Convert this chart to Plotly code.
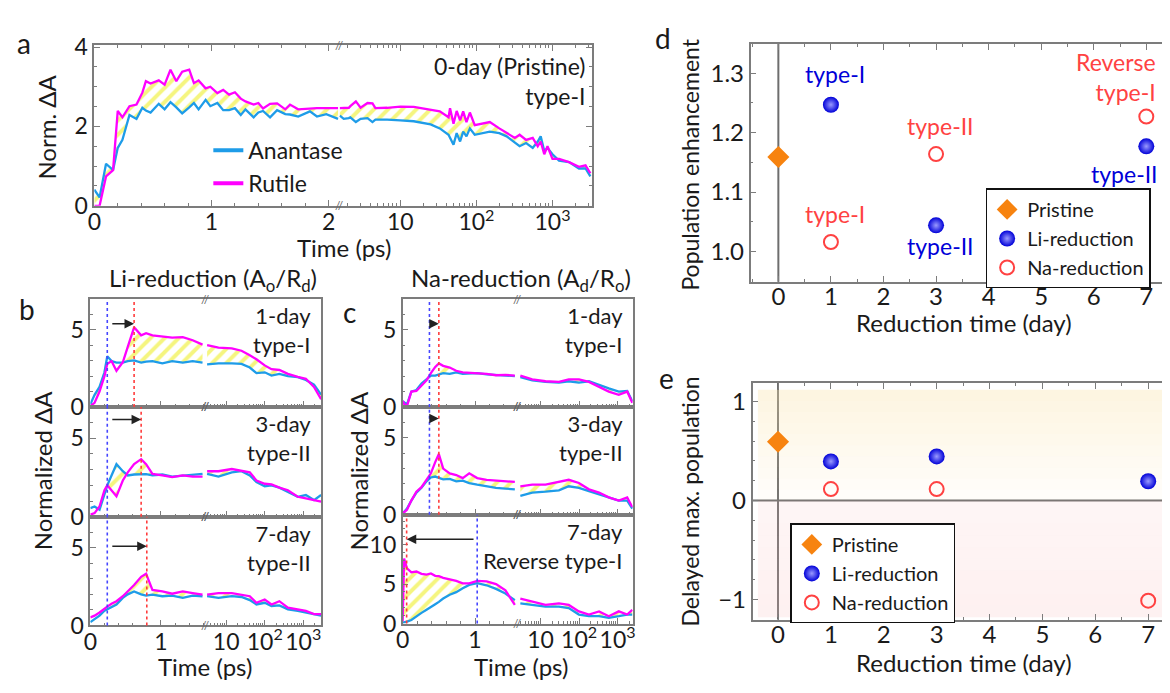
import plotly.graph_objects as go

W, H = 1170, 693
PAGE = 8  # default body margin of the written page
FONT = "Lato"
TXT = "#1a1a1a"
FRAME = "#7c7c7c"
BLUE = "#1e9ce8"
MAGENTA = "#ff00ff"
HATCH = "#ecec00"
DOT_BLUE = "#4646ff"
DOT_RED = "#ff3c3c"
LI_BLUE = "#0000d8"
NA_RED = "#ff4242"
ORANGE = "#f7830f"


def px(x):
    return min(1.0, (x - PAGE) / W)


def py(y):
    return 1 - (y - PAGE) / H


# ---------------- panel a : 0-day (pristine) ----------------
ta_lin = [0, 0.045, 0.10, 0.13, 0.16, 0.20, 0.24, 0.30, 0.36, 0.41, 0.44, 0.48, 0.55, 0.60,
          0.65, 0.70, 0.75, 0.81, 0.85, 0.89, 0.95, 0.99, 1.05, 1.10, 1.15, 1.20, 1.25, 1.29,
          1.36, 1.40, 1.44, 1.50, 1.56, 1.63, 1.67, 1.74, 1.84, 1.90, 1.98, 2.08]
ana_a_lin = [0.41, 0.21, 1.06, 0.98, 0.90, 1.46, 1.66, 2.29, 2.19, 2.47, 2.40, 2.35, 2.57, 2.43,
             2.61, 2.48, 2.33, 2.48, 2.59, 2.43, 2.67, 2.51, 2.59, 2.41, 2.41, 2.46, 2.29, 2.43,
             2.23, 2.35, 2.39, 2.23, 2.41, 2.31, 2.30, 2.25, 2.38, 2.25, 2.31, 2.19]
rut_a_lin = [0.0, 0.0, 0.74, 0.82, 0.90, 2.39, 2.23, 2.51, 2.55, 2.85, 3.14, 3.08, 3.16, 3.05,
             3.43, 3.14, 3.38, 3.43, 3.09, 3.16, 2.96, 3.00, 2.84, 2.92, 2.80, 2.86, 2.70, 2.63,
             2.55, 2.59, 2.45, 2.57, 2.58, 2.43, 2.55, 2.43, 2.46, 2.46, 2.46, 2.46]
ta_log = [1.6, 1.8, 2.1, 2.2, 2.6, 3.0, 3.7, 4.3, 4.7, 6.7, 10, 15, 25, 33, 43, 45, 50, 55, 61, 67,
          74, 82, 95, 150, 200, 250, 320, 370, 450, 550, 640, 700, 780, 860, 1000, 1220, 1650,
          2230, 2720, 3150]
ana_a_log = [2.27, 2.19, 2.21, 2.23, 2.11, 2.19, 2.21, 2.11, 2.17, 2.17, 2.15, 2.13, 2.05, 1.95,
             1.79, 1.71, 1.54, 1.83, 1.62, 1.87, 1.75, 1.95, 1.79, 1.87, 1.83, 1.75, 1.58, 1.50,
             1.58, 1.46, 1.62, 1.75, 1.38, 1.46, 1.30, 1.14, 1.10, 0.94, 0.94, 0.74]
rut_a_log = [2.46, 2.46, 2.47, 2.51, 2.63, 2.47, 2.59, 2.58, 2.46, 2.47, 2.50, 2.49, 2.43, 2.38,
             2.23, 2.46, 2.07, 2.39, 2.15, 2.38, 2.11, 2.35, 2.03, 2.11, 1.95, 1.83, 1.71, 1.79,
             1.66, 1.71, 1.50, 1.62, 1.30, 1.50, 1.18, 1.18, 1.10, 0.98, 1.02, 0.82]

# ---------------- panel b : Li-reduction ----------------
tb_lin = [0, 0.06, 0.13, 0.20, 0.24, 0.30, 0.37, 0.46, 0.53, 0.62, 0.72, 0.79, 0.88, 1.02, 1.16,
          1.31, 1.45, 1.59]
tb_log = [3.2, 6.3, 14, 25, 41, 61, 100, 150, 240, 400, 720, 1170, 1900, 2900]

ana_b1_lin = [0.17, 0.79, 1.31, 2.25, 3.29, 2.98, 2.88, 2.88, 2.98, 3.02, 2.88, 2.95, 2.98, 2.83,
              2.98, 2.88, 2.98, 2.88]
rut_b1_lin = [0.06, 0.27, 1.0, 2.0, 2.8, 2.98, 2.35, 2.9, 3.9, 5.17, 4.65, 4.79, 4.65, 4.58, 4.5,
              4.54, 4.33, 4.05]
ana_b1_log = [2.77, 2.83, 2.83, 2.80, 2.56, 2.2, 2.25, 2.04, 2.15, 2.0, 1.94, 1.75, 1.45, 0.8]
rut_b1_log = [4.02, 3.85, 3.8, 3.65, 3.35, 3.1, 2.7, 2.45, 2.4, 2.15, 1.95, 1.83, 1.3, 0.5]

ana_b2_lin = [0.54, 0.65, 0.44, 1.38, 2.0, 2.63, 3.35, 2.9, 2.63, 2.69, 2.7, 2.72, 2.63, 2.69, 2.56,
              2.63, 2.69, 2.73]
rut_b2_lin = [0.13, 0.23, 0.65, 1.69, 2.0, 1.7, 1.3, 2.31, 2.83, 3.35, 3.67, 3.35, 2.73, 2.63, 2.52,
              2.63, 2.56, 2.56]
ana_b2_log = [2.73, 2.56, 2.83, 2.9, 2.63, 2.21, 1.94, 2.0, 1.85, 1.58, 1.27, 1.38, 1.06, 1.38]
rut_b2_log = [2.9, 2.9, 3.04, 2.94, 2.83, 2.31, 2.1, 2.06, 1.85, 1.69, 1.27, 1.17, 1.06, 0.96]

ana_b3_lin = [0.21, 0.38, 0.63, 0.95, 1.04, 1.2, 1.35, 1.77, 2.0, 2.19, 2.0, 1.92, 1.98, 1.88, 1.92,
              1.77, 1.92, 1.88]
rut_b3_lin = [0.52, 0.63, 0.83, 1.1, 1.21, 1.4, 1.56, 1.88, 2.2, 2.6, 3.13, 3.33, 2.29, 2.19, 2.04,
              2.19, 2.08, 1.98]
ana_b3_log = [1.88, 1.77, 1.88, 1.83, 1.63, 1.35, 1.46, 1.25, 1.29, 1.04, 0.94, 0.83, 0.73, 0.63]
rut_b3_log = [1.98, 2.08, 2.08, 1.98, 1.88, 1.46, 1.67, 1.35, 1.56, 1.15, 1.04, 0.94, 0.73, 0.73]

b_labels = ["1-day<br>type-I", "3-day<br>type-II", "7-day<br>type-II"]
b_blue_t = [0.24, 0.24, 0.24]
b_red_t = [0.62, 0.72, 0.80]
b_arrow_y = [5.4, 6.2, 5.1]

# ---------------- panel c : Na-reduction ----------------
tc_lin = [0, 0.02, 0.06, 0.12, 0.19, 0.26, 0.33, 0.39, 0.45, 0.50, 0.56, 0.65, 0.74, 0.83, 0.92,
          1.03, 1.16, 1.29, 1.42, 1.55]
tc_log = [3.0, 6.1, 13.5, 30, 54, 99, 180, 330, 590, 1070, 1770, 2400]

ana_c1_lin = [0.38, 0.3, 0.17, 1.0, 1.1, 1.52, 1.83, 2.04, 2.04, 2.1, 2.2, 2.15, 2.25, 2.15, 2.18,
              2.2, 2.12, 2.08, 2.04, 2.0]
rut_c1_lin = [0.38, 0.2, 0.06, 1.0, 1.04, 1.42, 1.73, 2.2, 2.6, 2.83, 2.67, 2.56, 2.35, 2.25, 2.22,
              2.2, 2.15, 2.06, 2.08, 2.04]
ana_c1_log = [1.94, 1.73, 1.63, 1.58, 1.67, 1.58, 1.67, 1.42, 1.21, 1.0, 1.04, 0.38]
rut_c1_log = [2.04, 1.79, 1.67, 1.63, 1.79, 1.79, 1.63, 1.31, 1.0, 0.79, 1.0, 0.27]

ana_c2_lin = [0.08, 0.2, 0.4, 0.92, 1.44, 1.75, 2.17, 2.42, 2.48, 2.4, 2.3, 2.33, 2.17, 2.21, 2.05,
              1.95, 1.85, 1.75, 1.7, 1.65]
rut_c2_lin = [0.08, 0.15, 0.33, 0.92, 1.5, 1.79, 2.27, 2.69, 3.42, 3.94, 3.0, 2.69, 2.58, 2.38,
              2.69, 2.38, 2.27, 2.21, 2.17, 2.13]
ana_c2_log = [1.23, 1.44, 1.5, 1.58, 1.85, 1.75, 1.54, 1.33, 1.13, 0.92, 0.92, 0.4]
rut_c2_log = [1.85, 1.96, 1.96, 2.13, 2.27, 2.06, 1.65, 1.44, 1.13, 0.92, 1.13, 0.5]

ana_c3_lin = [0.1, 0.12, 0.25, 0.45, 0.93, 1.35, 1.75, 2.05, 2.45, 2.75, 3.17, 3.66, 3.98, 4.47,
              4.9, 5.12, 4.85, 4.39, 3.8, 2.97]
rut_c3_lin = [0.3, 8.25, 7.0, 6.5, 6.6, 6.3, 6.2, 6.35, 6.05, 6.0, 5.8, 5.6, 5.4, 5.1, 5.1, 5.4,
              5.35, 5.0, 4.2, 2.36]
ana_c3_log = [2.56, 2.36, 2.15, 2.15, 1.95, 1.14, 0.93, 0.93, 0.73, 0.93, 1.14, 1.14]
rut_c3_log = [3.17, 2.76, 2.36, 2.56, 2.36, 1.54, 1.14, 1.54, 0.93, 1.54, 1.14, 1.75]

c_labels = ["1-day<br>type-I", "3-day<br>type-II", "7-day<br>Reverse type-I"]
c_blue_t = [0.37, 0.37, 1.03]
c_red_t = [0.50, 0.50, 0.055]
c_arrow_y = [5.4, 6.25, 10.7]

# ---------------- panels d, e ----------------
pristine_day = [0]
reduced_days = [1, 3, 7]
pop_pristine = [1.159]
pop_li = [1.247, 1.044, 1.177]
pop_na = [1.016, 1.164, 1.227]
dmp_pristine = [0.594]
dmp_li = [0.396, 0.446, 0.195]
dmp_na = [0.116, 0.116, -1.013]

LOG_VALS = [10, 100, 1000]
LOG_TEXT = ["10", "10<sup>2</sup>", "10<sup>3</sup>"]

fig = go.Figure()
axes = {}
shapes = []
notes = []
count = [0]


def new_axes(xa, ya):
    count[0] += 1
    k = "" if count[0] == 1 else str(count[0])
    axes["xaxis" + k] = dict(xa, anchor="y" + k)
    axes["yaxis" + k] = dict(ya, anchor="x" + k)
    return "x" + k, "y" + k


def axis(size=23, **kw):
    d = dict(showline=True, linecolor=FRAME, linewidth=1.6, ticks="inside", tickcolor=FRAME,
             ticklen=6, tickwidth=1.3, showgrid=False, zeroline=False, fixedrange=True,
             tickfont=dict(family=FONT, size=size, color=TXT))
    d.update(kw)
    return d


def minor(dt=None):
    m = dict(ticks="inside", ticklen=3, tickwidth=1, tickcolor=FRAME, showgrid=False)
    if dt is not None:
        m["dtick"] = dt
    return m


def note(text, x, y, size=23, color=TXT, xanchor="center", yanchor="middle",
         xref="paper", yref="paper", angle=0, align="center"):
    notes.append(dict(text=text, x=x, y=y, xref=xref, yref=yref, xanchor=xanchor,
                      yanchor=yanchor, showarrow=False, textangle=angle, align=align,
                      font=dict(family=FONT, size=size, color=color)))


def broken(x0, xb, x1, top, bot, lin_range, log_range, y_range, y_ticks, y_minor,
           lin_ticks, labels, stacked):
    mir = True if stacked else "ticks"
    xl = axis(domain=[px(x0), px(xb)], range=lin_range, tickvals=lin_ticks, minor=minor(0.2),
              mirror=mir, showticklabels=labels, ticklabelstandoff=-5)
    yl = axis(domain=[py(bot), py(top)], range=y_range, tickvals=y_ticks, minor=minor(y_minor))
    lin = new_axes(xl, yl)
    xg = axis(type="log", domain=[px(xb), px(x1)], range=log_range, tickvals=LOG_VALS,
              ticktext=LOG_TEXT, minor=minor("D1"), mirror=mir, showticklabels=labels,
              ticklabelstandoff=-5)
    if stacked:
        yg = axis(domain=[py(bot), py(top)], range=y_range, ticks="", side="right",
                  showticklabels=False)
    else:
        yg = axis(domain=[py(bot), py(top)], range=y_range, tickvals=y_ticks,
                  minor=minor(y_minor), side="right", showticklabels=False)
    log = new_axes(xg, yg)
    for yy in (top, bot):
        note("//", px(xb), py(yy), size=12, color="#666")
    return lin, log


def curves(ax, t, ana, rut):
    xs, ys = ax
    fig.add_trace(go.Scatter(x=t, y=ana, xaxis=xs, yaxis=ys, mode="lines",
                             line=dict(color=BLUE, width=2.3), showlegend=False))
    fig.add_trace(go.Scatter(x=t, y=rut, xaxis=xs, yaxis=ys, mode="lines",
                             line=dict(color=MAGENTA, width=2.3), fill="tonexty",
                             fillcolor="rgba(255,255,255,0)",
                             fillpattern=dict(shape="/", fgcolor=HATCH, size=10, solidity=0.4),
                             showlegend=False))


# ---- panel a
a_lin, a_log = broken(88, 335, 590, 33, 200, [0, 2.09], [0.196, 3.52], [0, 4.05], [0, 2, 4],
                      0.5, [0, 1, 2], True, False)
curves(a_lin, ta_lin, ana_a_lin, rut_a_lin)
curves(a_log, ta_log, ana_a_log, rut_a_log)
for name, col in (("Anantase", BLUE), ("Rutile", MAGENTA)):
    fig.add_trace(go.Scatter(x=[None], y=[None], xaxis=a_lin[0], yaxis=a_lin[1], mode="lines",
                             name=name, line=dict(color=col, width=4), legend="legend"))
note("a", px(17), py(31), size=28)
note("Norm. ΔA", px(40), py(118), size=24, angle=-90)
note("Time (ps)", px(340), py(243), size=24)
note("0-day (Pristine)<br>type-I", px(585), py(70), size=23, xanchor="right", align="right")

# ---- panels b and c
panel_specs = [
    dict(x0=84, xb=200, x1=317, rows=[(297, 409), (409, 523), (523, 636)],
         lin_range=[0, 1.63], log_range=[0.46, 3.47], t_lin=tb_lin, t_log=tb_log,
         ana_lin=[ana_b1_lin, ana_b2_lin, ana_b3_lin], rut_lin=[rut_b1_lin, rut_b2_lin, rut_b3_lin],
         ana_log=[ana_b1_log, ana_b2_log, ana_b3_log], rut_log=[rut_b1_log, rut_b2_log, rut_b3_log],
         labels=b_labels, blue=b_blue_t, red=b_red_t, arrow_y=b_arrow_y,
         yr=[[0, 7], [0, 7], [0, 7]], yt=[[0, 5], [0, 5], [0, 5]], text_x=309),
    dict(x0=399, xb=514.7, x1=631, rows=[(297, 409), (409, 521), (521, 634)],
         lin_range=[0, 1.585], log_range=[0.4, 3.39], t_lin=tc_lin, t_log=tc_log,
         ana_lin=[ana_c1_lin, ana_c2_lin, ana_c3_lin], rut_lin=[rut_c1_lin, rut_c2_lin, rut_c3_lin],
         ana_log=[ana_c1_log, ana_c2_log, ana_c3_log], rut_log=[rut_c1_log, rut_c2_log, rut_c3_log],
         labels=c_labels, blue=c_blue_t, red=c_red_t, arrow_y=c_arrow_y,
         yr=[[0, 7], [0, 7], [0, 13.8]], yt=[[0, 5], [0, 5], [0, 5, 10]], text_x=623),
]
for p in panel_specs:
    for r, (top, bot) in enumerate(p["rows"]):
        lin, log = broken(p["x0"], p["xb"], p["x1"], top, bot, p["lin_range"], p["log_range"],
                          p["yr"][r], p["yt"][r], 1, [0, 1], r == 2, True)
        curves(lin, p["t_lin"], p["ana_lin"][r], p["rut_lin"][r])
        curves(log, p["t_log"], p["ana_log"][r], p["rut_log"][r])
        for t, col in ((p["blue"][r], DOT_BLUE), (p["red"][r], DOT_RED)):
            shapes.append(dict(type="line", xref=lin[0], yref=lin[1] + " domain", x0=t, x1=t,
                               y0=0, y1=1, line=dict(color=col, width=1.6, dash="dot")))
        start = p["blue"][r] + (0.05 if p["red"][r] > p["blue"][r] else -0.03)
        notes.append(dict(x=p["red"][r], y=p["arrow_y"][r], ax=start, ay=p["arrow_y"][r],
                          xref=lin[0], yref=lin[1], axref=lin[0], ayref=lin[1], text="",
                          showarrow=True, arrowhead=2, arrowsize=1.2, arrowwidth=1.6,
                          arrowcolor="#222"))
        note(p["labels"][r], px(p["text_x"]), py(top + 1), size=22, xanchor="right",
             yanchor="top", align="right")

note("b", px(20), py(307), size=28)
note("c", px(345), py(310), size=28)
note("Li-reduction (A<sub>o</sub>/R<sub>d</sub>)", px(208), py(277), size=24)
note("Na-reduction (A<sub>d</sub>/R<sub>o</sub>)", px(518), py(277), size=24)
note("Normalized ΔA", px(36), py(475), size=24, angle=-90)
note("Normalized ΔA", px(354), py(475), size=24, angle=-90)
note("Time (ps)", px(200), py(679), size=24)
note("Time (ps)", px(518), py(679), size=24)

# ---- panel d
xd = axis(size=24, domain=[px(750), 1.0], range=[-0.527, 7.546], tickvals=list(range(8)),
          minor=minor(0.5), mirror="ticks", ticklabelstandoff=-7)
yd = axis(size=24, domain=[py(279), py(32)], range=[0.949, 1.349],
          tickvals=[1.0, 1.1, 1.2, 1.3], ticktext=["1.0", "1.1", "1.2", "1.3"], minor=minor(0.05))
d_ax = new_axes(xd, yd)

# ---- panel e
xe = axis(size=24, domain=[px(752), 1.0], range=[-0.48, 7.507], tickvals=list(range(8)),
          minor=minor(0.5), mirror="ticks", ticklabelstandoff=-7)
ye = axis(size=24, domain=[py(630), py(384)], range=[-1.205, 1.19], tickvals=[-1, 0, 1],
          minor=minor(0.2))
e_ax = new_axes(xe, ye)

for i in range(10):
    a = 0.03 + 0.32 * (i + 1) / 10
    shapes.append(dict(type="rect", xref=e_ax[0], yref=e_ax[1], x0=-0.38, x1=7.507,
                       y0=1.12 * i / 10, y1=1.12 * (i + 1) / 10, layer="below",
                       fillcolor=f"rgba(250,226,170,{a:.3f})", line=dict(width=0)))
    b = 0.14 + 0.08 * (i + 1) / 10
    shapes.append(dict(type="rect", xref=e_ax[0], yref=e_ax[1], x0=-0.38, x1=7.507,
                       y0=-1.18 * (i + 1) / 10, y1=-1.18 * i / 10, layer="below",
                       fillcolor=f"rgba(248,190,190,{b:.3f})", line=dict(width=0)))

for ax in (d_ax, e_ax):
    shapes.append(dict(type="line", xref=ax[0], yref=ax[1] + " domain", x0=0, x1=0, y0=0, y1=1,
                       layer="below", line=dict(color="#6e6e6e", width=2)))
shapes.append(dict(type="line", xref=e_ax[0] + " domain", yref=e_ax[1], x0=0, x1=1, y0=0, y1=0,
                   layer="below", line=dict(color="#6e6e6e", width=2)))

for ax, leg, yp, yl, yn in ((d_ax, "legend2", pop_pristine, pop_li, pop_na),
                            (e_ax, "legend3", dmp_pristine, dmp_li, dmp_na)):
    fig.add_trace(go.Scatter(x=pristine_day, y=yp, xaxis=ax[0], yaxis=ax[1], mode="markers",
                             name="Pristine", legend=leg,
                             marker=dict(symbol="diamond", size=17, color=ORANGE)))
    fig.add_trace(go.Scatter(x=reduced_days, y=yl, xaxis=ax[0], yaxis=ax[1], mode="markers",
                             name="Li-reduction", legend=leg,
                             marker=dict(symbol="circle", size=16, color=LI_BLUE,
                                         gradient=dict(type="radial", color="#9a9aff"),
                                         line=dict(width=0))))
    fig.add_trace(go.Scatter(x=reduced_days, y=yn, xaxis=ax[0], yaxis=ax[1], mode="markers",
                             name="Na-reduction", legend=leg,
                             marker=dict(symbol="circle-open", size=14, color=NA_RED,
                                         line=dict(width=2))))

for text, x, y, col, anc in (("type-I", 1.07, 1.298, LI_BLUE, "center"),
                             ("type-I", 1.07, 1.063, NA_RED, "center"),
                             ("type-II", 3.08, 1.212, NA_RED, "center"),
                             ("type-II", 3.08, 1.010, LI_BLUE, "center"),
                             ("Reverse<br>type-I", 7.22, 1.294, NA_RED, "right"),
                             ("type-II", 6.58, 1.13, LI_BLUE, "center")):
    note(text, x, y, color=col, xanchor=anc, xref=d_ax[0], yref=d_ax[1], align=anc)

note("d", px(662), py(26), size=28)
note("e", px(665), py(379), size=28)
note("Population enhancement", px(689), py(157), size=23, angle=-90)
note("Delayed max. population", px(689), py(507), size=23, angle=-90)
note("Reduction time (day)", px(965), py(321), size=24)
note("Reduction time (day)", px(965), py(674), size=24)

legend_font = dict(family=FONT, size=20, color=TXT)
fig.update_layout(
    width=W, height=H, autosize=False,
    margin=dict(l=0, r=0, t=0, b=0),
    paper_bgcolor="white", plot_bgcolor="rgba(0,0,0,0)",
    font=dict(family=FONT, size=23, color=TXT),
    showlegend=True,
    legend=dict(x=px(203), y=py(120), xanchor="left", yanchor="top", traceorder="normal",
                font=dict(legend_font, size=23), bgcolor="rgba(0,0,0,0)", tracegroupgap=0),
    legend2=dict(x=px(987), y=py(182), xanchor="left", yanchor="top", traceorder="normal",
                 font=legend_font, bgcolor="white", bordercolor="#111", borderwidth=1.5,
                 tracegroupgap=0),
    legend3=dict(x=px(790), y=py(530), xanchor="left", yanchor="top", traceorder="normal",
                 font=legend_font, bgcolor="white", bordercolor="#111", borderwidth=1.5,
                 tracegroupgap=0),
    shapes=shapes,
    annotations=notes,
    **axes,
)

fig.write_html("out.html")
